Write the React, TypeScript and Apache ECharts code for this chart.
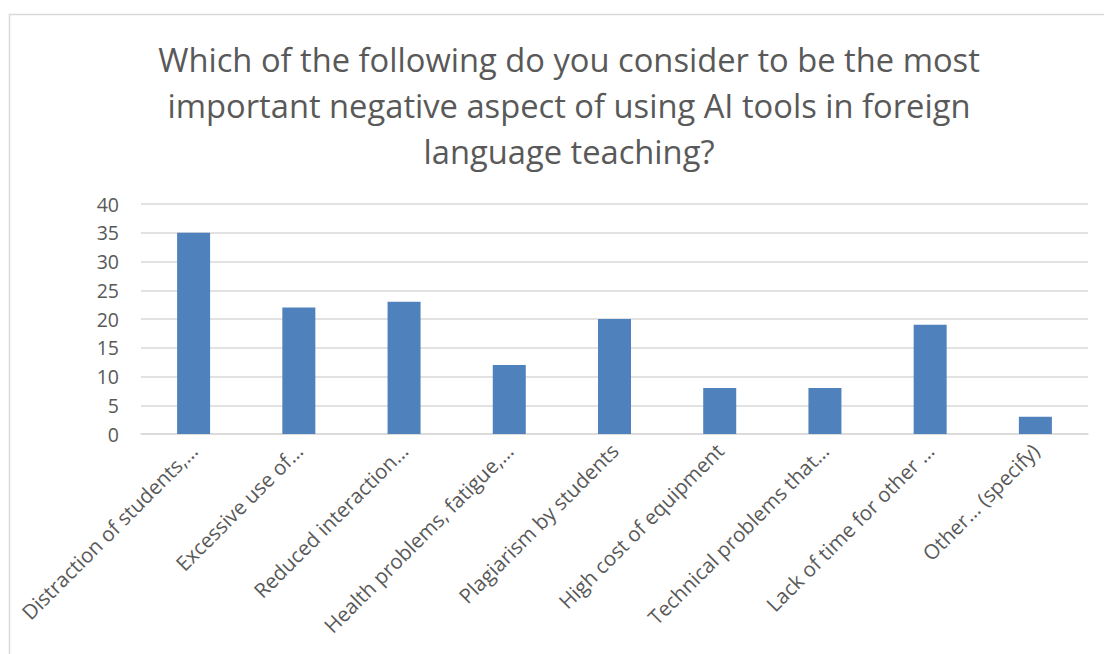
import React, { useEffect, useRef } from "react";
import * as echarts from "echarts";

const titleLines = [
  "Which of the following do you consider to be the most",
  "important negative aspect of using AI tools in foreign",
  "language teaching?",
];

const categories = [
  "Distraction of students,…",
  "Excessive use of…",
  "Reduced interaction…",
  "Health problems, fatigue,…",
  "Plagiarism by students",
  "High cost of equipment",
  "Technical problems that…",
  "Lack of time for other …",
  "Other… (specify)",
];

const values = [35, 22, 23, 12, 20, 8, 8, 19, 3];

const yMin = 0;
const yMax = 40;
const yStep = 5;

export default function App() {
  const ref = useRef<HTMLDivElement>(null);
  useEffect(() => {
    document.body.style.margin = "0";
    const chart = echarts.init(ref.current!, undefined, { renderer: "svg" });
    const font = "'Open Sans', 'Noto Sans', sans-serif";
    chart.setOption({
      animation: false,
      backgroundColor: "#ffffff",
      textStyle: { fontFamily: font },
      graphic: [
        {
          type: "rect",
          shape: { x: 9.5, y: 14.5, width: 1200, height: 800 },
          style: { fill: "none", stroke: "#d9d9d9", lineWidth: 1.5 },
          silent: true,
        },
      ],
      title: {
        text: titleLines.join("\n"),
        left: 564,
        top: 31,
        textAlign: "center",
        textStyle: {
          fontFamily: font,
          fontSize: 32.7,
          fontWeight: "normal",
          color: "#595959",
          lineHeight: 46,
        },
      },
      grid: { left: 141, right: 16, top: 204, bottom: 220, containLabel: false },
      xAxis: {
        type: "category",
        data: categories,
        axisLine: { lineStyle: { color: "#d9d9d9", width: 1.5 } },
        axisTick: { show: false },
        axisLabel: {
          rotate: 45,
          interval: 0,
          margin: 13,
          fontSize: 20.5,
          color: "#595959",
          fontFamily: font,
        },
      },
      yAxis: {
        type: "value",
        min: yMin,
        max: yMax,
        interval: yStep,
        axisLine: { show: false },
        axisTick: { show: false },
        axisLabel: { fontSize: 19.5, color: "#595959", margin: 22, fontFamily: font },
        splitLine: { lineStyle: { color: "#d9d9d9", width: 1.5 } },
      },
      series: [
        {
          type: "bar",
          data: values,
          barWidth: 33,
          itemStyle: { color: "#4f81bd" },
        },
      ],
    });
    return () => chart.dispose();
  }, []);
  return <div ref={ref} style={{ width: 1104, height: 654 }} />;
}
